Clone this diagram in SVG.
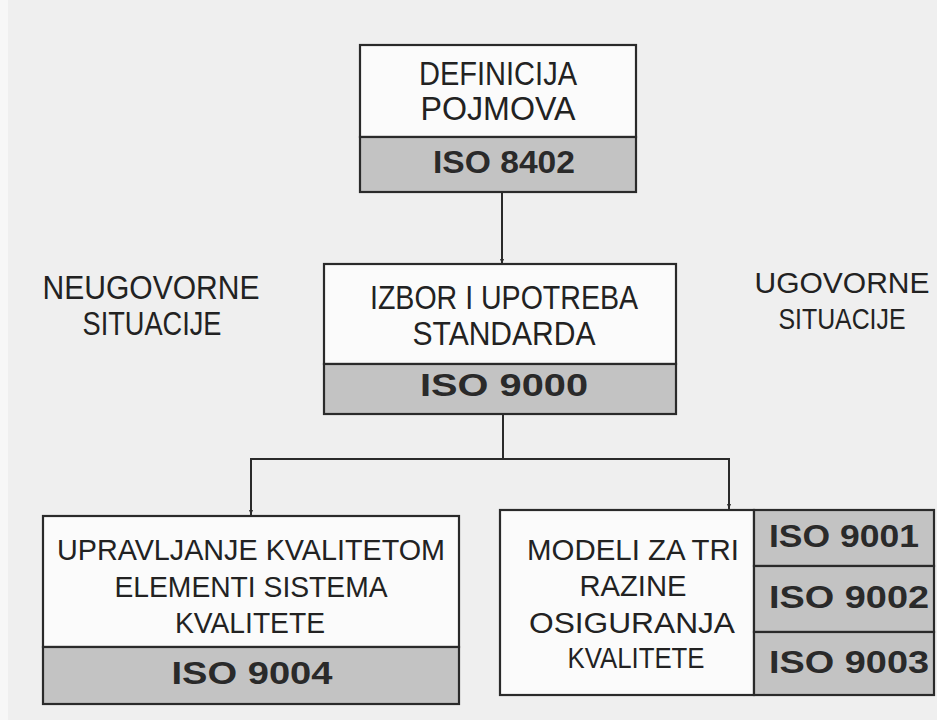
<svg xmlns="http://www.w3.org/2000/svg" width="937" height="720" viewBox="0 0 937 720">
<style>
.page{fill:#efefef}
.box{fill:#fbfbfb;stroke:#2a2a2a;stroke-width:2.2}
.grey{fill:#c3c3c3;stroke:#2a2a2a;stroke-width:2.2}
.t{font-family:"Liberation Sans",Arial,sans-serif;font-size:34px;fill:#222;text-anchor:middle}
.s{font-size:30px}
.u{font-size:30px}
.b{font-family:"Liberation Sans",Arial,sans-serif;font-size:32px;font-weight:bold;fill:#2a2a2a;text-anchor:middle}
.c{fill:none;stroke:#2a2a2a;stroke-width:2}
</style>
<defs>
<marker id="ah" viewBox="0 0 10 10" refX="10" refY="5" markerWidth="5" markerHeight="6" orient="auto" markerUnits="userSpaceOnUse">
<path d="M0,1 L10,5 L0,9 z" fill="#2a2a2a"/>
</marker>
</defs>
<rect x="0" y="0" width="937" height="720" fill="#f7f7f7"/>
<rect class="page" x="8" y="0" width="929" height="720"/>

<g id="connectors">
<path class="c" d="M502,192 V264" marker-end="url(#ah)"/>
<path class="c" d="M503,414 V459 H251 V515" marker-end="url(#ah)"/>
<path class="c" d="M503,459 H729 V509" marker-end="url(#ah)"/>
</g>

<g id="node-definicija">
<rect class="box" x="360" y="45" width="276" height="92"/>
<rect class="grey" x="360" y="137" width="276" height="55"/>
<text class="t" x="498" y="85" textLength="158" lengthAdjust="spacingAndGlyphs">DEFINICIJA</text>
<text class="t" x="498" y="120" textLength="155" lengthAdjust="spacingAndGlyphs">POJMOVA</text>
<text class="b" x="504" y="173" textLength="142" lengthAdjust="spacingAndGlyphs">ISO 8402</text>
</g>

<g id="label-neugovorne">
<text class="t" x="151" y="299" textLength="217" lengthAdjust="spacingAndGlyphs">NEUGOVORNE</text>
<text class="t" x="152" y="335" textLength="139" lengthAdjust="spacingAndGlyphs">SITUACIJE</text>
</g>

<g id="label-ugovorne">
<text class="t u" x="842" y="293" textLength="175" lengthAdjust="spacingAndGlyphs">UGOVORNE</text>
<text class="t u" x="842" y="329" textLength="127" lengthAdjust="spacingAndGlyphs">SITUACIJE</text>
</g>

<g id="node-izbor">
<rect class="box" x="324" y="264" width="352" height="100"/>
<rect class="grey" x="324" y="364" width="352" height="50"/>
<text class="t" x="504" y="309" textLength="268" lengthAdjust="spacingAndGlyphs">IZBOR I UPOTREBA</text>
<text class="t" x="504" y="345" textLength="183" lengthAdjust="spacingAndGlyphs">STANDARDA</text>
<text class="b" x="504" y="396" textLength="168" lengthAdjust="spacingAndGlyphs">ISO 9000</text>
</g>

<g id="node-upravljanje">
<rect class="box" x="43" y="516" width="416" height="131"/>
<rect class="grey" x="43" y="647" width="416" height="57"/>
<text class="t s" x="251" y="560" textLength="388" lengthAdjust="spacingAndGlyphs">UPRAVLJANJE KVALITETOM</text>
<text class="t s" x="251" y="597" textLength="273" lengthAdjust="spacingAndGlyphs">ELEMENTI SISTEMA</text>
<text class="t s" x="250" y="633" textLength="150" lengthAdjust="spacingAndGlyphs">KVALITETE</text>
<text class="b" x="252" y="684" textLength="161" lengthAdjust="spacingAndGlyphs">ISO 9004</text>
</g>

<g id="node-modeli">
<rect class="box" x="500" y="510" width="254" height="185"/>
<rect class="grey" x="754" y="510" width="180" height="56"/>
<rect class="grey" x="754" y="566" width="180" height="66"/>
<rect class="grey" x="754" y="632" width="180" height="63"/>
<text class="t s" x="633" y="560" textLength="212" lengthAdjust="spacingAndGlyphs">MODELI ZA TRI</text>
<text class="t s" x="633" y="596" textLength="107" lengthAdjust="spacingAndGlyphs">RAZINE</text>
<text class="t s" x="632" y="633" textLength="206" lengthAdjust="spacingAndGlyphs">OSIGURANJA</text>
<text class="t s" x="636" y="668" textLength="137" lengthAdjust="spacingAndGlyphs">KVALITETE</text>
<text class="b" x="844" y="547" textLength="150" lengthAdjust="spacingAndGlyphs">ISO 9001</text>
<text class="b" x="849" y="608" textLength="160" lengthAdjust="spacingAndGlyphs">ISO 9002</text>
<text class="b" x="849" y="673" textLength="160" lengthAdjust="spacingAndGlyphs">ISO 9003</text>
</g>
</svg>
